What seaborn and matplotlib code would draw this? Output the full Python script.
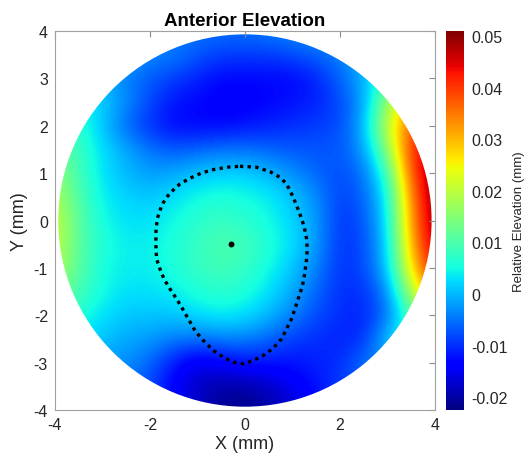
import numpy as np
import matplotlib
matplotlib.use("Agg")
import matplotlib.pyplot as plt
import seaborn as sns
from matplotlib.patches import Circle

# ---- data ----------------------------------------------------------
grid_x = [-4, -3.5, -3, -2.5, -2, -1.5, -1, -0.5, 0, 0.5, 1, 1.5, 2, 2.5, 3, 3.5, 4]
grid_y = [4, 3.5, 3, 2.5, 2, 1.5, 1, 0.5, 0, -0.5, -1, -1.5, -2, -2.5, -3, -3.5, -4]
# relative elevation in micrometres, rows = grid_y (top to bottom), cols = grid_x
elev_um = [
    [0, -2, -3, -4, -5, -5, -5, -5, -5, -4, -3, -2, -2, 0, 3, 6, 10],
    [4, 2, 0, -2, -3, -4, -7, -9, -9, -9, -8, -6, -4, -1, 4, 10, 18],
    [5, 2, -1, -4, -7, -9, -11, -13, -13, -13, -13, -11, -6, 0, 10, 22, 30],
    [8, 5, 2, -3, -8, -12, -13, -14, -14, -13, -12, -11, -8, -2, 18, 30, 38],
    [10, 7, 1, -6, -10, -13, -13, -13, -12, -11, -10, -9, -8, 0, 22, 38, 45],
    [14, 8, 3, -1, -5, -7, -6, -5, -5, -6, -7, -7, -7, -2, 16, 42, 48],
    [16, 9, 3, 0, -2, -1, 1, 2, 2, 0, -3, -6, -8, -5, 8, 40, 50],
    [19, 10, 4, 2, 1, 3, 5, 6, 5, 4, 1, -3, -9, -6, 4, 36, 50],
    [21, 11, 5, 3, 3, 5, 7, 8, 7, 5, 2, -2, -10, -7, 3, 34, 50],
    [21, 11, 6, 4, 4, 6, 8, 10, 9, 6, 3, -2, -10, -8, 2, 32, 48],
    [19, 11, 5, 4, 4, 6, 8, 9, 8, 5, 1, -4, -10, -8, 1, 28, 45],
    [15, 9, 5, 3, 3, 4, 6, 7, 6, 3, -1, -6, -10, -10, -3, 20, 35],
    [10, 6, 3, 1, 1, 1, 3, 4, 3, 0, -4, -8, -10, -11, -5, 10, 25],
    [6, 3, 1, -1, -2, -4, -5, -4, -4, -6, -9, -10, -11, -10, 2, 8, 10],
    [2, 0, -2, -3, -6, -12, -16, -14, -12, -12, -12, -11, -10, -5, -2, 0, 2],
    [0, -2, -3, -5, -8, -14, -18, -20, -20, -18, -15, -12, -9, -6, -3, -1, 0],
    [-2, -4, -6, -8, -10, -14, -18, -21, -22, -20, -17, -13, -10, -7, -4, -2, 0],
]

zone_x = [-0.105, 0.246, 0.526, 0.737, 0.877, 1.017, 1.144, 1.242, 1.298, 1.312,
          1.298, 1.263, 1.214, 1.144, 1.053, 0.982, 0.877, 0.772, 0.596, 0.386,
          0.175, -0.035, -0.246, -0.456, -0.667, -0.877, -1.053, -1.193, -1.312,
          -1.438, -1.579, -1.705, -1.789, -1.860, -1.874, -1.874, -1.846, -1.754,
          -1.649, -1.544, -1.368, -1.158, -0.912, -0.667, -0.386, -0.105]
zone_y = [1.145, 1.124, 1.032, 0.913, 0.772, 0.491, 0.174, -0.107, -0.388, -0.599,
          -0.810, -1.091, -1.373, -1.584, -1.865, -2.076, -2.287, -2.498, -2.695,
          -2.850, -2.955, -3.025, -2.990, -2.884, -2.744, -2.533, -2.322, -2.076,
          -1.865, -1.654, -1.443, -1.232, -1.021, -0.810, -0.529, -0.247, 0.034,
          0.315, 0.491, 0.610, 0.772, 0.892, 1.004, 1.074, 1.124, 1.145]
apex_x = [-0.30]
apex_y = [-0.49]

cbar_ticks = [-0.02, -0.01, 0, 0.01, 0.02, 0.03, 0.04, 0.05]
cbar_ticklabels = ["-0.02", "-0.01", "0", "0.01", "0.02", "0.03", "0.04", "0.05"]
vmin, vmax = -0.0225, 0.051

# ---- plot ----------------------------------------------------------
sns.set_style("white")
plt.rcParams["font.family"] = ["Liberation Sans", "DejaVu Sans"]
plt.rcParams["axes.unicode_minus"] = False

fig = plt.figure(figsize=(5.28, 4.64), dpi=100)
ax = fig.add_axes([0.104, 0.1142, 0.7197, 0.8168])

elev = np.array(elev_um, dtype=float) / 1000.0
dx = 0.5
im = ax.imshow(elev, cmap="jet", vmin=vmin, vmax=vmax, origin="upper",
               extent=[grid_x[0] - dx / 2, grid_x[-1] + dx / 2,
                       grid_y[-1] - dx / 2, grid_y[0] + dx / 2],
               interpolation="bicubic", aspect="auto")
clip = Circle((0, 0), 3.93, transform=ax.transData)
im.set_clip_path(clip)

sns.lineplot(x=zone_x, y=zone_y, sort=False, estimator=None, ax=ax,
             color="black", linewidth=2.4, linestyle=(0, (1, 1.3)),
             dash_capstyle="butt")
sns.scatterplot(x=apex_x, y=apex_y, ax=ax, color="black", s=18,
                edgecolor="black", linewidth=0, zorder=5)

ax.set_xlim(-4, 4)
ax.set_ylim(-4, 4)
ax.set_xticks([-4, -2, 0, 2, 4])
ax.set_yticks([-4, -3, -2, -1, 0, 1, 2, 3, 4])
ax.tick_params(direction="in", length=4, width=0.8, color="#8c8c8c",
               top=True, right=True, labelsize=11.5, labelcolor="#262626",
               pad=5)
for sp in ax.spines.values():
    sp.set_visible(True)
    sp.set_color("#a0a0a0")
    sp.set_linewidth(0.8)
ax.set_xlabel("X (mm)", fontsize=13, color="#262626", labelpad=2)
ax.set_ylabel("Y (mm)", fontsize=13, color="#262626", labelpad=4)
ax.set_title("Anterior Elevation", fontsize=13.5, fontweight="bold",
             color="black", pad=4)

cax = fig.add_axes([0.845, 0.1142, 0.034, 0.8168])
cb = fig.colorbar(im, cax=cax)
cb.set_ticks(cbar_ticks)
cb.set_ticklabels(cbar_ticklabels)
cb.ax.tick_params(length=0, labelsize=11.5, labelcolor="#262626", pad=5)
cb.outline.set_visible(False)
cb.set_label("Relative Elevation (mm)", fontsize=9.5, color="#262626",
             labelpad=4)

fig.savefig("out.png", dpi=100)
